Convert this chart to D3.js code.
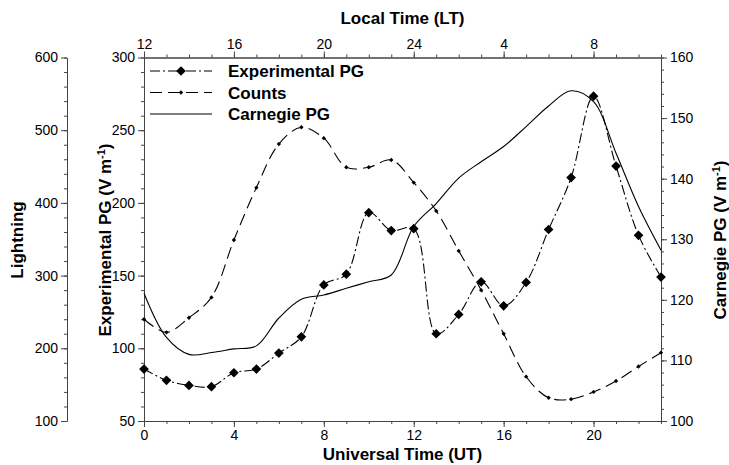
<!DOCTYPE html>
<html lang="en">
<head>
<meta charset="UTF-8">
<script src="https://cdn.jsdelivr.net/npm/d3@7"></script>
<title>PG and lightning</title>
<style>
    body { margin: 0; background: #fff; }
    svg { font-family: "Liberation Sans", Arial, sans-serif; }
    .axis text { font-size: 14px; fill: #000; }
    .axis path, .axis line { stroke: #444; }
    .title { font-size: 17px; font-weight: bold; }
</style>
</head>
<body>
<div id="container"></div>
<script>
    const width = 729,
        height = 465;

    // hours in universal time
    const hours = d3.range(0, 24);
    const expPG = [85.7, 78, 74.5, 73.6, 83.2, 85.7, 96.7, 107.9, 143.6, 151, 193.3, 181,
        182.3, 110, 123.3, 145.7, 129.2, 145.3, 181.7, 217.4, 273.4, 225.3, 177.7, 149];
    const counts = [240, 222, 242, 270, 349, 421, 481, 504, 489, 449, 449, 459,
        428, 389, 334, 280, 220, 161, 132, 130, 140, 155, 175, 194];
    const carnegie = [121.1, 113.8, 111, 111.3, 111.9, 112.4, 117, 120.1, 120.8, 121.9, 123, 124.1,
        132.1, 135.9, 140.1, 142.8, 145.3, 148.6, 152, 154.5, 152.7, 144.2, 135.4, 128.2];

    const utTicks = [0, 4, 8, 12, 16, 20];
    const expTicks = [50, 100, 150, 200, 250, 300];
    const lightTicks = [100, 200, 300, 400, 500, 600];
    const carnTicks = [100, 110, 120, 130, 140, 150, 160];
    const legendNames = ["Experimental PG", "Counts", "Carnegie PG"];

    const plotL = 144, plotR = 661, plotT = 57.5, plotB = 421, lightX = 67;

    const x = d3.scaleLinear().domain([0, 23]).range([plotL, plotR]);
    const yExp = d3.scaleLinear().domain([50, 300]).range([plotB, plotT]);
    const yLight = d3.scaleLinear().domain([100, 600]).range([plotB, plotT]);
    const yCarn = d3.scaleLinear().domain([100, 160]).range([plotB, plotT]);

    const svg = d3.select("#container")
        .append("svg")
        .attr("width", width)
        .attr("height", height);

    // axis with minor ticks drawn first, then major ones with labels
    function drawAxis(axisFn, scale, minor, major, fmt, transform) {
        const g = svg.append("g").attr("class", "axis").attr("transform", transform);
        g.append("g").call(axisFn(scale).tickValues(minor).tickSize(3).tickSizeOuter(0).tickFormat(""));
        g.append("g").call(axisFn(scale).tickValues(major).tickSize(6).tickSizeOuter(0).tickFormat(fmt));
        return g;
    }

    drawAxis(d3.axisBottom, x, hours, utTicks, d3.format("d"), `translate(0,${plotB})`);
    drawAxis(d3.axisTop, x, hours, utTicks, d => (d + 12) % 24 === 0 ? 24 : (d + 12) % 24, `translate(0,${plotT})`);
    drawAxis(d3.axisLeft, yExp, d3.range(50, 301, 10), expTicks, d3.format("d"), `translate(${plotL},0)`);
    drawAxis(d3.axisRight, yCarn, d3.range(100, 161, 2), carnTicks, d3.format("d"), `translate(${plotR},0)`);
    drawAxis(d3.axisLeft, yLight, d3.range(100, 601, 20), lightTicks, d3.format("d"), `translate(${lightX},0)`);

    // lines
    const curve = d3.curveCatmullRom.alpha(0.5);
    const lineExp = d3.line().x((d, i) => x(hours[i])).y(d => yExp(d)).curve(curve);
    const lineCounts = d3.line().x((d, i) => x(hours[i])).y(d => yLight(d)).curve(curve);
    const lineCarn = d3.line().x((d, i) => x(hours[i])).y(d => yCarn(d)).curve(curve);

    const dashExp = "10,3,2,3";
    const dashCounts = "12,6";

    svg.append("path").attr("d", lineCarn(carnegie))
        .attr("fill", "none").attr("stroke", "#000").attr("stroke-width", 1.1);
    svg.append("path").attr("d", lineCounts(counts))
        .attr("fill", "none").attr("stroke", "#000").attr("stroke-width", 1.1)
        .attr("stroke-dasharray", dashCounts);
    svg.append("path").attr("d", lineExp(expPG))
        .attr("fill", "none").attr("stroke", "#000").attr("stroke-width", 1.1)
        .attr("stroke-dasharray", dashExp);

    const bigDiamond = d3.symbol().type(d3.symbolDiamond2).size(60);
    const smallDiamond = d3.symbol().type(d3.symbolDiamond2).size(12);

    svg.selectAll("path.exp-pt").data(expPG).join("path")
        .attr("class", "exp-pt")
        .attr("d", bigDiamond)
        .attr("transform", (d, i) => `translate(${x(hours[i])},${yExp(d)})`);

    svg.selectAll("path.cnt-pt").data(counts).join("path")
        .attr("class", "cnt-pt")
        .attr("d", smallDiamond)
        .attr("transform", (d, i) => `translate(${x(hours[i])},${yLight(d)})`);

    // legend
    const legend = svg.append("g").attr("transform", "translate(150,71)");
    const styles = [dashExp, dashCounts, null];
    legendNames.forEach((name, i) => {
        const row = legend.append("g").attr("transform", `translate(0,${i * 21.5})`);
        row.append("line").attr("x1", 0).attr("x2", 62).attr("y1", 0).attr("y2", 0)
            .attr("stroke", "#000").attr("stroke-width", 1.1)
            .attr("stroke-dasharray", styles[i]);
        if (i === 0) row.append("path").attr("d", bigDiamond).attr("transform", "translate(31,0)");
        if (i === 1) row.append("path").attr("d", smallDiamond).attr("transform", "translate(31,0)");
        row.append("text").attr("class", "title").attr("x", 78).attr("y", 6).text(name);
    });

    // titles
    svg.append("text").attr("class", "title").attr("text-anchor", "middle")
        .attr("x", (plotL + plotR) / 2).attr("y", 460).text("Universal Time (UT)");
    svg.append("text").attr("class", "title").attr("text-anchor", "middle")
        .attr("x", (plotL + plotR) / 2).attr("y", 24).text("Local Time (LT)");

    svg.append("text").attr("class", "title").attr("text-anchor", "middle")
        .attr("transform", "translate(23,240) rotate(-90)").text("Lightning");

    function unitTitle(label, tx) {
        const t = svg.append("text").attr("class", "title").attr("text-anchor", "middle")
            .attr("transform", `translate(${tx},240) rotate(-90)`);
        t.append("tspan").text(label + " (V m");
        t.append("tspan").attr("baseline-shift", "super").attr("font-size", "11px").text("-1");
        t.append("tspan").text(")");
    }
    unitTitle("Experimental PG", 111);
    unitTitle("Carnegie PG", 726);
</script>
</body>
</html>
